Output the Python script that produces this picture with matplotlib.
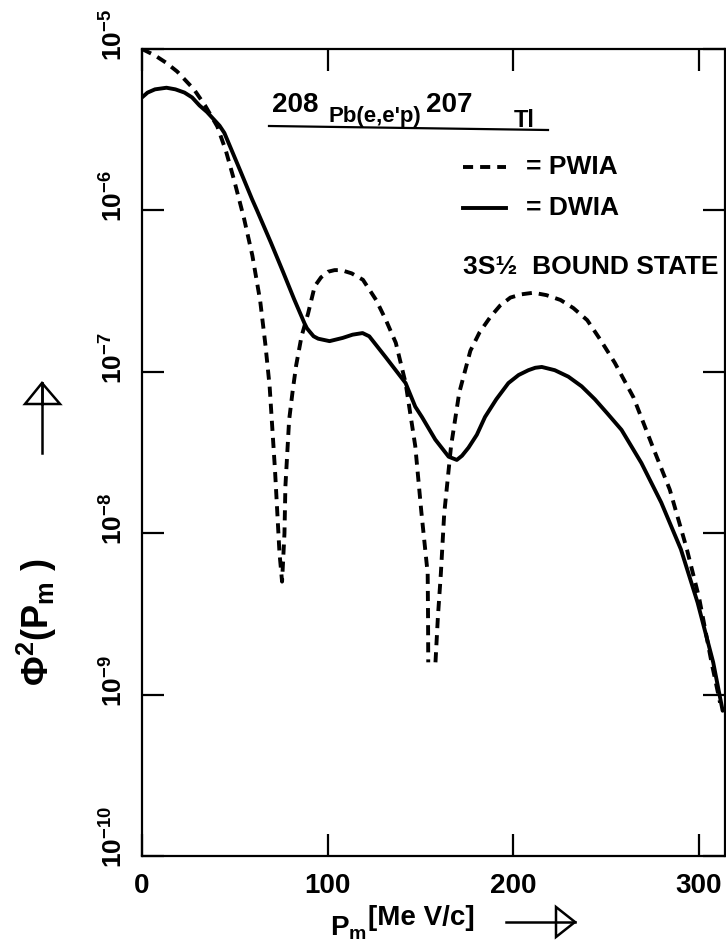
import numpy as np
import matplotlib
matplotlib.use('Agg')
import matplotlib.pyplot as plt
from matplotlib.lines import Line2D
from matplotlib.patches import Polygon
from matplotlib.ticker import NullLocator
from matplotlib.transforms import blended_transform_factory, offset_copy

plt.rcParams['font.family'] = ['Liberation Sans', 'DejaVu Sans']
plt.rcParams['font.weight'] = 'bold'
plt.rcParams['mathtext.fontset'] = 'custom'
plt.rcParams['mathtext.rm'] = 'Liberation Sans:bold'
plt.rcParams['mathtext.it'] = 'Liberation Sans:bold'
plt.rcParams['mathtext.bf'] = 'Liberation Sans:bold'

# PWIA (dashed) - missing momentum [MeV/c] and log10 of Phi^2
pwia_pm = [0, 7, 13, 19, 28, 34, 40.6, 45.2, 49.6, 55, 59.5, 63.7, 66.5, 68.8, 71.7, 74.1,
           75.5, 76.8, 77.3, 79.3, 81.2, 83.1, 86, 89.5, 93.1, 96.5, 100.3, 103.8,
           107.4, 113, 119.1, 126.2, 131.5, 136.8, 142.1, 147.3, 150.6, 154.0, 154.2,
           154.3, None, 158.2, 159.5, 161.1, 162.9, 166.6, 171.0, 177, 182, 187.8, 193,
           198.6, 204.5, 211, 218, 225.6, 232.5, 240, 247, 254.9, 265, 275.5, 284.5,
           293.5, 300.3, 307, 311.6]
pwia_log = [-5.00, -5.04, -5.085, -5.14, -5.25, -5.35, -5.48, -5.63, -5.81, -6.05, -6.28,
            -6.56, -6.83, -7.09, -7.61, -8.12, -8.30, -8.00, -7.71, -7.30, -7.12, -6.96,
            -6.78, -6.64, -6.47, -6.415, -6.38, -6.37, -6.37, -6.39, -6.43, -6.555, -6.68,
            -6.82, -7.07, -7.46, -7.87, -8.25, -8.53, -8.80, None, -8.80, -8.52, -8.25,
            -7.88, -7.46, -7.13, -6.87, -6.755, -6.66, -6.59, -6.54, -6.52, -6.51, -6.525,
            -6.555, -6.605, -6.68, -6.80, -6.945, -7.16, -7.47, -7.73, -8.09, -8.40,
            -8.80, -9.05]

# DWIA (solid)
dwia_pm = [0, 3, 7, 13.2, 18, 22.9, 27, 31, 35, 39, 41.8, 44.4, 53, 59.3, 62, 69.5, 76,
           82, 87.6, 88.9, 90.3, 92.5, 95, 101.1, 108.2, 113.5, 118.9, 122.5, 131.4,
           142.1, 147.3, 150.9, 158.1, 165.3, 169.7, 172.5, 176, 180.5, 184.9, 191, 197.5,
           203, 208.3, 212, 215.5, 222.5, 229.8, 237, 244.1, 251, 258.5, 269.2, 279.9,
           290.5, 299.5, 307.9, 313]
dwia_log = [-5.30, -5.27, -5.25, -5.24, -5.25, -5.27, -5.30, -5.35, -5.39, -5.44, -5.475,
            -5.52, -5.755, -5.93, -6.00, -6.20, -6.38, -6.55, -6.70, -6.73, -6.75, -6.78,
            -6.795, -6.81, -6.79, -6.77, -6.76, -6.78, -6.91, -7.07, -7.216, -7.28, -7.42,
            -7.526, -7.546, -7.52, -7.47, -7.39, -7.28, -7.17, -7.07, -7.02, -6.99, -6.975,
            -6.97, -6.99, -7.03, -7.09, -7.17, -7.26, -7.36, -7.565, -7.81, -8.10, -8.43,
            -8.80, -9.10]

y_decades = [-10, -9, -8, -7, -6, -5]
x_ticks = [0, 100, 200, 300]
x_labels = ['0', '100', '200', '300']

W, H = 726, 944
LW = 2.8
DASH = (0, (2.6, 1.8))


def fx(px):
    return px / W


def fy(py):
    return 1 - py / H


fig = plt.figure(figsize=(W / 100, H / 100), dpi=100)
ax = fig.add_axes([fx(142), fy(856), (724.5 - 142) / W, (856 - 49) / H])

ax.set_yscale('log')
ax.set_xlim(0, 314)
ax.set_ylim(10.0 ** -10, 10.0 ** -5)

pw_x = np.array(pwia_pm, dtype=float)
pw_y = 10.0 ** np.array(pwia_log, dtype=float)
dw_x = np.array(dwia_pm, dtype=float)
dw_y = 10.0 ** np.array(dwia_log, dtype=float)

ax.plot(pw_x, pw_y, color='black', lw=LW, ls=DASH, dash_capstyle='butt',
        dash_joinstyle='round')
ax.plot(dw_x, dw_y, color='black', lw=LW, solid_capstyle='round',
        solid_joinstyle='round')

for s in ax.spines.values():
    s.set_linewidth(1.6)

ax.set_xticks(x_ticks)
ax.set_xticklabels(x_labels, fontsize=20, fontweight='bold')
ax.set_yticks([10.0 ** d for d in y_decades])
ax.set_yticklabels([])
ax.yaxis.set_minor_locator(NullLocator())
ax.tick_params(which='both', direction='in', length=16, width=1.6,
               top=True, right=True, labeltop=False, labelright=False)
ax.tick_params(axis='x', pad=12)

# rotated decade labels on the left
trans = offset_copy(blended_transform_factory(ax.transAxes, ax.transData),
                    fig=fig, y=-12, units='dots')
for d in y_decades:
    ax.text(-0.024, 10.0 ** d, r'$\mathregular{10^{%d}}$' % d, transform=trans,
            rotation=90, ha='right', va='bottom', fontsize=19, fontweight='bold',
            clip_on=False)

# reaction header
fig.text(fx(272), fy(112), '208', fontsize=20, fontweight='bold', va='baseline')
fig.text(fx(328), fy(122), "Pb(e,e'p)", fontsize=16, fontweight='bold', va='baseline')
fig.text(fx(426), fy(112), '207', fontsize=20, fontweight='bold', va='baseline')
fig.text(fx(514), fy(127), 'Tl', fontsize=17, fontweight='bold', va='baseline')
fig.add_artist(Line2D([fx(269), fx(548)], [fy(126), fy(130)], color='black', lw=1.6,
                      transform=fig.transFigure))

# legend
fig.add_artist(Line2D([fx(463), fx(506)], [fy(167), fy(167)], color='black', lw=LW,
                      ls=DASH, dash_capstyle='butt', transform=fig.transFigure))
fig.add_artist(Line2D([fx(463), fx(506)], [fy(208), fy(208)], color='black', lw=LW,
                      transform=fig.transFigure))
fig.text(fx(526), fy(167), '= PWIA', fontsize=19, fontweight='bold', va='center')
fig.text(fx(526), fy(208), '= DWIA', fontsize=19, fontweight='bold', va='center')
fig.text(fx(463), fy(267), '3S\u00bd  BOUND STATE', fontsize=19, fontweight='bold',
         va='center')

# axis labels with open arrow heads
fig.text(fx(330), fy(942), r'$\mathregular{P_m}$', fontsize=20, fontweight='bold',
         va='bottom')
fig.text(fx(368), fy(918), '[Me V/c]', fontsize=20, fontweight='bold', va='center')
fig.add_artist(Line2D([fx(506), fx(575)], [fy(922), fy(922)], color='black', lw=1.8,
                      transform=fig.transFigure))
fig.add_artist(Polygon([[fx(556), fy(907)], [fx(556), fy(937)], [fx(575), fy(922)]],
                       closed=True, fc='white', ec='black', lw=1.8,
                       transform=fig.transFigure))

fig.text(fx(37), fy(622), r'$\mathregular{\Phi^2(P_m\ )}$', fontsize=26,
         fontweight='bold', rotation=90, ha='center', va='center')
fig.add_artist(Line2D([fx(42), fx(42)], [fy(453), fy(383)], color='black', lw=1.8,
                      transform=fig.transFigure))
fig.add_artist(Polygon([[fx(25), fy(404)], [fx(60), fy(404)], [fx(42), fy(383)]],
                       closed=True, fc='white', ec='black', lw=1.8,
                       transform=fig.transFigure))
fig.add_artist(Line2D([fx(42), fx(42)], [fy(404), fy(383)], color='black', lw=1.8,
                      transform=fig.transFigure))

fig.savefig('out.png', dpi=100)
